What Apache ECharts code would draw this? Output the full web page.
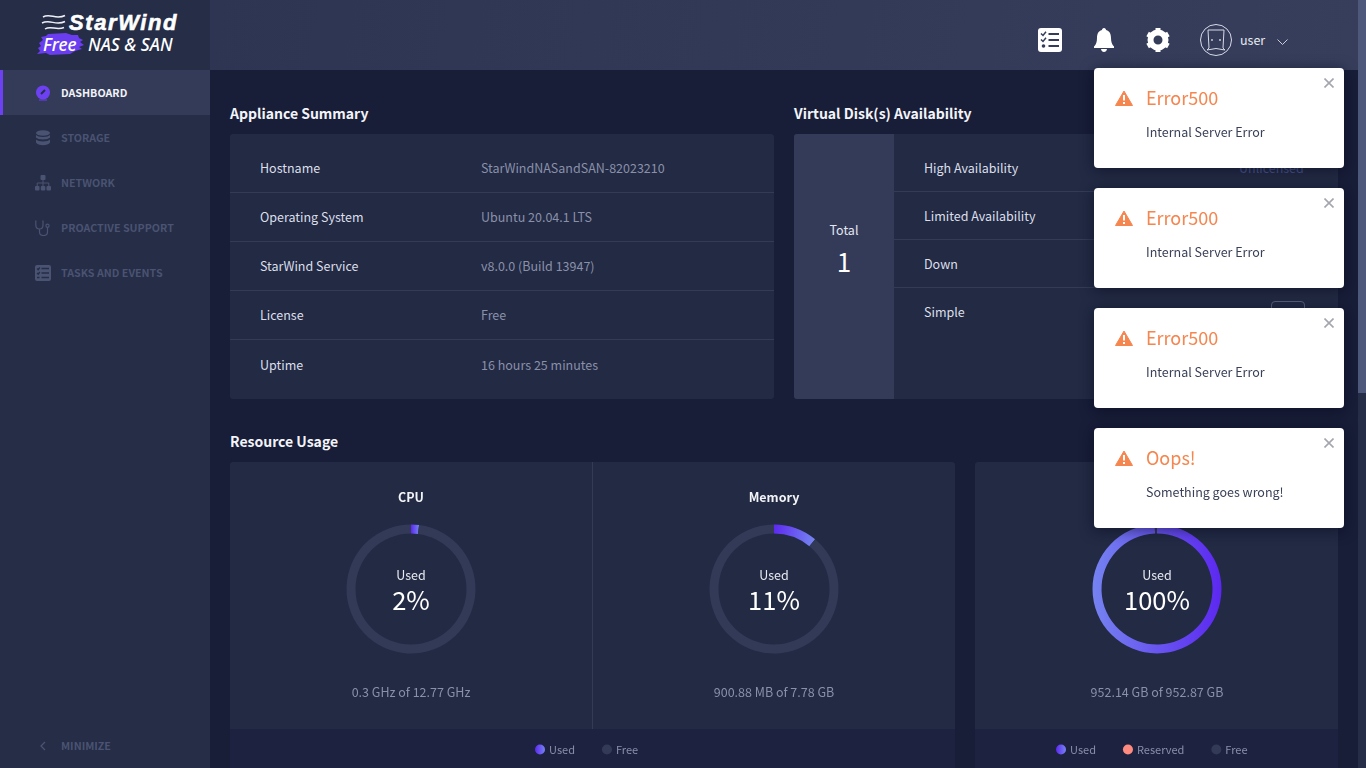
<!DOCTYPE html>
<html>
<head>
<meta charset="utf-8">
<title>StarWind NAS & SAN dashboard</title>
<script src="https://cdn.jsdelivr.net/npm/echarts@6/dist/echarts.min.js"></script>
<style>
  * { box-sizing: border-box; }
  html, body { margin: 0; height: 100%; overflow: hidden; background: #181d38; }
  body { position: relative; width: 1366px; height: 768px; color: #e4e6ef;
    font-family: "Noto Sans CJK JP", "Noto Sans", sans-serif; font-size: 12.5px; }
  .abs { position: absolute; }
  .t { position: absolute; white-space: nowrap; line-height: 18px; transform: translateY(-9px); }

  #sidebar { left: 0; top: 0; width: 210px; height: 768px; background: #252d47; }
  #active { left: 0; top: 70px; width: 210px; height: 45px; background: #333b58; border-left: 3px solid #6d41f2; }
  .nav { left: 61px; font-size: 10.7px; font-weight: 700; color: #4a5371; }
  .nav.on { color: #f2f3f8; }
  #header { left: 210px; top: 0; width: 1148px; height: 70px;
    background: linear-gradient(100deg, #2e3552, #363e5c); }
  #track { left: 1358px; top: 0; width: 8px; height: 768px; background: #252d47; }
  #thumb { left: 1358px; top: 0; width: 8px; height: 393px; background: #4e587a; }

  .heading { font-size: 14px; font-weight: 700; color: #f3f4f8; }
  .panel { background: #222a44; }
  .sep { position: absolute; height: 1px; background: #333b56; }
  .lab { color: #dcdfe9; }
  .val { color: #8a90a9; }

  #chart { left: 0; top: 0; width: 1366px; height: 768px; }

  .toast { position: absolute; left: 1094px; width: 250px; height: 100px; background: #fff;
    border-radius: 4px; box-shadow: 0 2px 14px rgba(5, 8, 25, .55); }
  .toast b { position: absolute; left: 52px; top: 17px; font-size: 18px; font-weight: 400;
    line-height: 27px; color: #f5864f; }
  .toast p { position: absolute; left: 52px; top: 55px; margin: 0; font-size: 12.5px; line-height: 18px;
    color: #3a4057; white-space: nowrap; }
  .toast svg.warn { position: absolute; left: 21px; top: 22px; }
  .toast svg.close { position: absolute; left: 230px; top: 10px; }
</style>
</head>
<body>
<div class="abs" id="sidebar"></div>
<div class="abs" id="active"></div>
<div class="abs" id="header"></div>
<div class="abs" id="track"></div>
<div class="abs" id="thumb"></div>

<!-- logo -->
<svg class="abs" style="left:36px;top:10px" width="150" height="50" viewBox="0 0 150 50">
  <path d="M7 7 C14 3 20 10 29 5.500 M6 13 C14 9 20 16 29 11.500 M9 19 C15 15 20 21 28 17.500" fill="none" stroke="#eef0f6" stroke-width="1.500"/>
  <path d="M5 27 L10 26 L12 24 L30 23 L36 25 L42 25 L43 28 L47 30 L44 32 L48 35 L43 37 L46 39 L39 41 L34 44 L14 45 L10 43 L1 44 L4 41 L2 38 L5 36 L3 33 L7 30 Z" fill="#6a3df0"/>
  <text x="33" y="20" font-family="Liberation Sans" font-size="22" font-weight="700" font-style="italic" letter-spacing="1.600" fill="#fff" stroke="#fff" stroke-width=".6">StarWind</text>
  <text x="7" y="41" font-family="Noto Sans" font-size="17.500" font-weight="500" font-style="italic" fill="#fff">Free</text>
  <text x="52" y="41" font-family="Noto Sans" font-size="17.500" font-weight="500" font-style="italic" fill="#fff">NAS &amp; SAN</text>
</svg>

<!-- nav icons -->
<svg class="abs" style="left:35px;top:85px" width="16" height="16" viewBox="0 0 16 16">
  <circle cx="8" cy="7.500" r="7" fill="#6d41f2"/><path d="M6 9 L10 5" stroke="#252d47" stroke-width="2"/><rect x="4" y="14.500" width="8" height="1" fill="#6d41f2"/>
</svg>
<svg class="abs" style="left:35px;top:130px" width="16" height="16" viewBox="0 0 16 16" fill="#4a5371">
  <ellipse cx="8" cy="3" rx="7" ry="2.800"/><path d="M1 5 C3 7.500 13 7.500 15 5 V7.500 C13 10 3 10 1 7.500 Z"/><path d="M1 9.500 C3 12 13 12 15 9.500 V12.500 C13 16 3 16 1 12.500 Z"/>
</svg>
<svg class="abs" style="left:35px;top:175px" width="16" height="16" viewBox="0 0 16 16" fill="#4a5371">
  <rect x="5.500" y="0" width="5" height="5" rx="1"/><rect x="0" y="11" width="4.500" height="4.500" rx="1"/><rect x="5.800" y="11" width="4.500" height="4.500" rx="1"/><rect x="11.500" y="11" width="4.500" height="4.500" rx="1"/>
  <path d="M8 5 V11 M2.200 11 V8 H13.800 V11" fill="none" stroke="#4a5371"/>
</svg>
<svg class="abs" style="left:35px;top:220px" width="16" height="16" viewBox="0 0 16 16" fill="none" stroke="#4a5371" stroke-width="1.200">
  <path d="M1.500 1 H0.800 V5 C0.800 8 3 9 4.500 9 C6 9 8 8 8 5 V1 H7.300 M4.500 9 V12 C4.500 14 6 15.500 8.500 15.500 C11 15.500 12.500 14 12.500 12 V7.500"/><circle cx="12.500" cy="5.800" r="1.600"/>
</svg>
<svg class="abs" style="left:35px;top:265px" width="16" height="16" viewBox="0 0 16 16">
  <rect x="0" y="0" width="16" height="16" rx="2" fill="#4a5371"/>
  <path d="M6.500 3.500 H14 M6.500 8 H14 M6.500 12.500 H14 M2 3.500 L3.200 4.700 L4.800 2.500 M2 8 L3.200 9.200 L4.800 7 M2 12.500 H4.500" stroke="#252d47" stroke-width="1.300" fill="none"/>
</svg>

<div class="t nav on" style="top:92.500px">DASHBOARD</div>
<div class="t nav" style="top:137.500px">STORAGE</div>
<div class="t nav" style="top:182.500px">NETWORK</div>
<div class="t nav" style="top:227.500px">PROACTIVE SUPPORT</div>
<div class="t nav" style="top:272.500px">TASKS AND EVENTS</div>
<svg class="abs" style="left:39px;top:741px" width="8" height="10" viewBox="0 0 8 10"><path d="M6 1 L2 5 L6 9" fill="none" stroke="#4a5371" stroke-width="1.300"/></svg>
<div class="t nav" style="top:745.500px">MINIMIZE</div>

<!-- header icons -->
<svg class="abs" style="left:1038px;top:28px" width="24" height="24" viewBox="0 0 24 24">
  <rect width="24" height="24" rx="3" fill="#fff"/>
  <path d="M10.500 6 H21 M10.500 12 H21 M10.500 18 H21" stroke="#343c5a" stroke-width="2.200"/>
  <path d="M3 5.500 L5 7.500 L8 3.800 M3 11.500 L5 13.500 L8 9.800" stroke="#343c5a" stroke-width="1.500" fill="none"/><circle cx="5.500" cy="18" r="1.800" fill="#343c5a"/>
</svg>
<svg class="abs" style="left:1094px;top:28px" width="20" height="24" viewBox="0 0 20 24" fill="#fff">
  <path d="M10 0 C11.300 0 12 1 12 2 C16 3 17 6.500 17 10 C17 14 18 16.500 20 18.500 V20 H0 V18.500 C2 16.500 3 14 3 10 C3 6.500 4 3 8 2 C8 1 8.700 0 10 0 Z"/><path d="M7 21 H13 C12.800 23 11.400 24 10 24 C8.600 24 7.200 23 7 21 Z"/>
</svg>
<svg class="abs" style="left:1146px;top:28px" width="24" height="24" viewBox="0 0 24 24">
  <circle cx="12" cy="12" r="7.500" fill="none" stroke="#fff" stroke-width="6"/>
  <path d="M12 3 L12 0 M12 21 L12 24 M4.200 7.500 L1.600 6 M19.800 16.500 L22.400 18 M4.200 16.500 L1.600 18 M19.800 7.500 L22.400 6" stroke="#fff" stroke-width="5"/>
  <circle cx="12" cy="12" r="3.800" fill="#343c5a"/>
</svg>
<svg class="abs" style="left:1200px;top:24px" width="32" height="32" viewBox="0 0 32 32" fill="none" stroke="#d7dae6">
  <circle cx="16" cy="16" r="15.500"/><path d="M8 6 H24 L23 24 L25 26 Q16 23 7 26 L9 24 Z"/><circle cx="12" cy="16" r=".6"/><circle cx="20" cy="16" r=".6"/>
</svg>
<div class="t" style="left:1240px;top:40px;color:#e8eaf1">user</div>
<svg class="abs" style="left:1277px;top:39px" width="11" height="7" viewBox="0 0 11 7"><path d="M.5 .5 L5.500 5.500 L10.500 .5" fill="none" stroke="#c9cddb"/></svg>

<!-- appliance summary -->
<div class="t heading" style="left:230px;top:113px">Appliance Summary</div>
<div class="abs panel" style="left:230px;top:134px;width:544px;height:265px;border-radius:3px"></div>
<div class="sep" style="left:230px;top:192px;width:544px"></div>
<div class="sep" style="left:230px;top:241px;width:544px"></div>
<div class="sep" style="left:230px;top:290px;width:544px"></div>
<div class="sep" style="left:230px;top:339px;width:544px"></div>
<div class="t lab" style="left:260px;top:168px">Hostname</div><div class="t val" style="left:481px;top:168px">StarWindNASandSAN-82023210</div>
<div class="t lab" style="left:260px;top:217px">Operating System</div><div class="t val" style="left:481px;top:217px">Ubuntu 20.04.1 LTS</div>
<div class="t lab" style="left:260px;top:266px">StarWind Service</div><div class="t val" style="left:481px;top:266px">v8.0.0 (Build 13947)</div>
<div class="t lab" style="left:260px;top:315px">License</div><div class="t val" style="left:481px;top:315px">Free</div>
<div class="t lab" style="left:260px;top:365px">Uptime</div><div class="t val" style="left:481px;top:365px">16 hours 25 minutes</div>

<!-- virtual disks -->
<div class="t heading" style="left:794px;top:113px">Virtual Disk(s) Availability</div>
<div class="abs panel" style="left:794px;top:134px;width:544px;height:265px;border-radius:3px"></div>
<div class="abs" style="left:794px;top:134px;width:100px;height:265px;background:#333b58;border-radius:3px 0 0 3px"></div>
<div class="t" style="left:794px;width:100px;text-align:center;top:230px">Total</div>
<div class="t" style="left:794px;width:100px;text-align:center;top:261px;font-size:26px;line-height:30px;transform:translateY(-15px);color:#fff">1</div>
<div class="sep" style="left:894px;top:191px;width:444px"></div>
<div class="sep" style="left:894px;top:239px;width:444px"></div>
<div class="sep" style="left:894px;top:287px;width:444px"></div>
<div class="t lab" style="left:924px;top:168px">High Availability</div>
<div class="t lab" style="left:924px;top:216px">Limited Availability</div>
<div class="t lab" style="left:924px;top:264px">Down</div>
<div class="t lab" style="left:924px;top:312px">Simple</div>
<div class="t" style="left:1239px;top:168px;color:#4a5590">Unlicensed</div>
<div class="abs" style="left:1271px;top:301px;width:34px;height:24px;border:1px solid #59607a;border-radius:4px"></div>

<!-- resource usage -->
<div class="t heading" style="left:230px;top:441px">Resource Usage</div>
<div class="abs panel" style="left:230px;top:462px;width:725px;height:306px;border-radius:3px 3px 0 0"></div>
<div class="abs panel" style="left:975px;top:462px;width:363px;height:306px;border-radius:3px 3px 0 0"></div>
<div class="abs" style="left:592px;top:462px;width:1px;height:267px;background:#333b56"></div>
<div class="abs" style="left:230px;top:729px;width:725px;height:39px;background:#1c2240"></div>
<div class="abs" style="left:975px;top:729px;width:363px;height:39px;background:#1c2240"></div>

<div class="abs" id="chart"></div>

<!-- notifications -->
<div id="toasts"></div>

<script>
// usage rings, in percent
var cpuUsed = 2, cpuFree = 98;
var memoryUsed = 11, memoryFree = 89;
var diskUsed = 99.9, diskFree = 0.1;
var ringTitles = ['CPU', 'Memory'];
var ringPercents = ['2%', '11%', '100%'];
var ringDetails = ['0.3 GHz of 12.77 GHz', '900.88 MB of 7.78 GB', '952.14 GB of 952.87 GB'];
var ringCenters = [411, 774, 1157];

// toast messages
var toastTitles = ['Error500', 'Error500', 'Error500', 'Oops!'];
var toastTexts = ['Internal Server Error', 'Internal Server Error', 'Internal Server Error', 'Something goes wrong!'];

var usedColor = function (x, y, x2, y2) {
  return new echarts.graphic.LinearGradient(x, y, x2, y2, [
    { offset: 0, color: '#5c28f0' },
    { offset: 1, color: '#7583f0' }
  ]);
};
var freeColor = '#333a58';
var reservedColor = '#ff8a80';

function ring(name, i, data) {
  return {
    type: 'pie',
    name: name,
    center: [ringCenters[i], 589],
    radius: [55.5, 64.5],
    startAngle: 90,
    clockwise: true,
    minAngle: 2,
    silent: true,
    animation: false,
    label: { show: false },
    labelLine: { show: false },
    data: data
  };
}

var titles = [];
function addText(text, x, y, size, color, weight) {
  titles.push({
    text: text, left: x, top: y, textAlign: 'center', textVerticalAlign: 'middle',
    padding: 0,
    textStyle: { color: color, fontSize: size, fontWeight: weight || 400, fontFamily: 'Noto Sans CJK JP' }
  });
}
ringTitles.forEach(function (t, i) { addText(t, ringCenters[i], 497, 12.5, '#f3f4f8', 700); });
ringCenters.forEach(function (x, i) {
  addText('Used', x, 575, 12.5, '#e8eaf1');
  addText(ringPercents[i], x, 600, 25.5, '#ffffff');
  addText(ringDetails[i], x, 692, 12.5, '#8a90a9');
});

var chart = echarts.init(document.getElementById('chart'));
chart.setOption({
  backgroundColor: 'transparent',
  title: titles,
  legend: [
    { data: ['Used', 'Free'], left: 535, top: 744 },
    { data: ['Used', 'Reserved', 'Free'], left: 1056, top: 744 }
  ].map(function (l) {
    l.orient = 'horizontal';
    l.icon = 'circle';
    l.itemWidth = 10;
    l.itemHeight = 10;
    l.itemGap = 27;
    l.padding = 0;
    l.selectedMode = false;
    l.textStyle = { color: '#8a90a9', fontSize: 11, fontFamily: 'Noto Sans CJK JP', padding: [0, 0, 0, -1] };
    return l;
  }),
  series: [
    ring('CPU', 0, [
      { name: 'Used', value: cpuUsed, itemStyle: { color: usedColor(0, 0, 1, 0) } },
      { name: 'Free', value: cpuFree, itemStyle: { color: freeColor } }
    ]),
    ring('Memory', 1, [
      { name: 'Used', value: memoryUsed, itemStyle: { color: usedColor(0, 0, 1, 0.4) } },
      { name: 'Free', value: memoryFree, itemStyle: { color: freeColor } }
    ]),
    ring('Disk', 2, [
      { name: 'Used', value: diskUsed, itemStyle: { color: usedColor(1, 0.3, 0, 0.3) } },
      { name: 'Reserved', value: '-', itemStyle: { color: reservedColor } },
      { name: 'Free', value: diskFree, itemStyle: { color: freeColor } }
    ])
  ]
});

var warn = '<svg class="warn" width="18" height="16" viewBox="0 0 18 16"><path d="M9 1 L17.500 15.500 H.5 Z" fill="#f5864f" stroke="#f5864f" stroke-linejoin="round"/><rect x="8" y="5" width="2" height="5.500" fill="#fff"/><rect x="8" y="12" width="2" height="2" fill="#fff"/></svg>';
var close = '<svg class="close" width="10" height="10" viewBox="0 0 10 10"><path d="M.5 .5 L9.500 9.500 M9.500 .5 L.5 9.500" stroke="#a3a6ae" stroke-width="1.600"/></svg>';
var html = '';
toastTitles.forEach(function (t, i) {
  html += '<div class="toast" style="top:' + (68 + i * 120) + 'px">' + warn + close + '<b style="top:16px">' + t + '</b><p>' + toastTexts[i] + '</p></div>';
});
document.getElementById('toasts').innerHTML = html;
</script>
</body>
</html>
